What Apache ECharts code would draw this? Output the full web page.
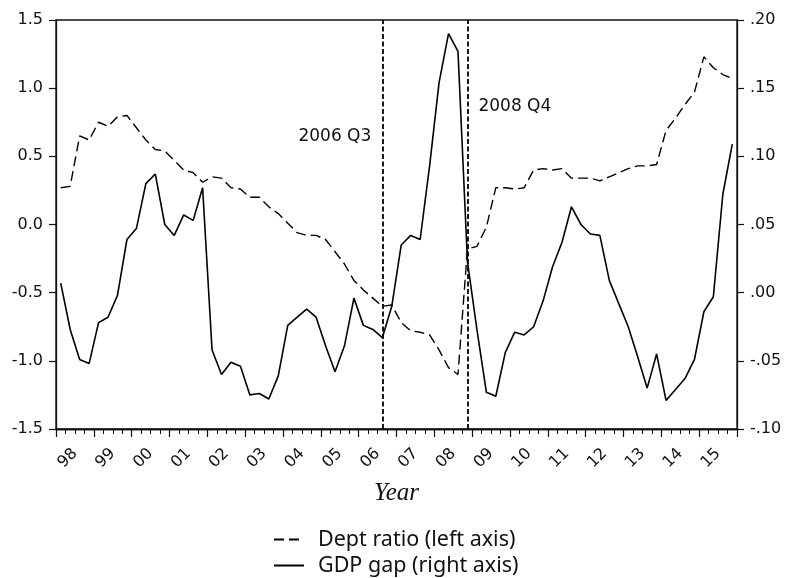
<!DOCTYPE html>
<html>
<head>
<meta charset="utf-8">
<script src="https://cdn.jsdelivr.net/npm/echarts@6/dist/echarts.min.js"></script>
<style>
html,body{margin:0;padding:0;background:#fff;}
#chart{width:785px;height:578px;}
</style>
</head>
<body>
<div id="chart"></div>
<script>
// Year tick labels (x axis)
const years = ['98','99','00','01','02','03','04','05','06','07','08','09','10','11','12','13','14','15'];
// Quarterly categories 1998Q1 .. 2015Q4
const quarters = [];
for (let y = 1998; y <= 2015; y++) { for (let q = 1; q <= 4; q++) quarters.push(y + 'Q' + q); }

// Left axis tick labels
const leftTicks = ['-1.5','-1.0','-0.5','0.0','0.5','1.0','1.5'];
// Right axis tick labels
const rightTicks = ['-.10','-.05','.00','.05','.10','.15','.20'];

// Dept ratio (left axis), quarterly
const deptRatio = [
  0.27, 0.28, 0.65, 0.62, 0.75, 0.72, 0.79, 0.80,
  0.71, 0.62, 0.55, 0.54, 0.47, 0.40, 0.38, 0.31,
  0.35, 0.34, 0.27, 0.26, 0.20, 0.20, 0.13, 0.08,
  0.01, -0.06, -0.08, -0.08, -0.11, -0.20, -0.29, -0.41,
  -0.48, -0.54, -0.60, -0.59, -0.72, -0.78, -0.79, -0.81,
  -0.92, -1.05, -1.10, -0.18, -0.16, -0.02, 0.27, 0.27,
  0.26, 0.27, 0.40, 0.41, 0.40, 0.41, 0.34, 0.34,
  0.34, 0.32, 0.35, 0.38, 0.41, 0.43, 0.43, 0.44,
  0.69, 0.78, 0.88, 0.97, 1.23, 1.15, 1.10, 1.07
];
// GDP gap (right axis), quarterly
const gdpGap = [
  0.007, -0.027, -0.049, -0.052, -0.022, -0.018, -0.002, 0.039,
  0.047, 0.080, 0.087, 0.050, 0.042, 0.057, 0.053, 0.077,
  -0.042, -0.060, -0.051, -0.054, -0.075, -0.074, -0.078, -0.061,
  -0.024, -0.018, -0.012, -0.018, -0.039, -0.058, -0.039, -0.004,
  -0.024, -0.027, -0.033, -0.010, 0.035, 0.042, 0.039, 0.093,
  0.154, 0.190, 0.177, 0.023, -0.027, -0.073, -0.076, -0.044,
  -0.029, -0.031, -0.025, -0.006, 0.019, 0.037, 0.063, 0.050,
  0.043, 0.042, 0.009, -0.008, -0.025, -0.047, -0.070, -0.045,
  -0.079, -0.071, -0.063, -0.049, -0.014, -0.003, 0.072, 0.109
];

// Event markers
const events = [
  { q: '2006Q3', label: '2006 Q3', labelY: 0.645, side: 'left' },
  { q: '2008Q4', label: '2008 Q4', labelY: 0.866, side: 'right' }
];

const tickFont = 'DejaVu Sans';
const chart = echarts.init(document.getElementById('chart'));

function fmtLeft(v) {
  const idx = Math.round((v + 1.5) / 0.5);
  return leftTicks[idx] !== undefined ? leftTicks[idx] : '';
}
function fmtRight(v) {
  const idx = Math.round((v + 0.1) / 0.05);
  return rightTicks[idx] !== undefined ? rightTicks[idx] : '';
}

chart.setOption({
  backgroundColor: '#fff',
  animation: false,
  grid: {
    left: 56, right: 48, top: 20, bottom: 149,
    show: true, borderColor: '#111', borderWidth: 1.3, backgroundColor: 'transparent'
  },
  legend: {
    orient: 'vertical',
    left: 273, top: 528,
    padding: 0,
    itemWidth: 30, itemHeight: 14, itemGap: 3,
    itemStyle: { opacity: 0 },
    textStyle: { fontFamily: 'Noto Sans', fontSize: 21.5, color: '#111', padding: [0, 0, 0, 9], lineHeight: 23 },
    data: ['Dept ratio (left axis)', 'GDP gap (right axis)']
  },
  xAxis: [
    {
      type: 'category',
      data: years,
      boundaryGap: true,
      position: 'bottom',
      axisLine: { show: true, onZero: false, lineStyle: { color: '#111', width: 1.3 } },
      axisTick: { show: true, length: 8, lineStyle: { color: '#111', width: 1.2 } },
      axisLabel: { rotate: 45, margin: 22, fontFamily: tickFont, fontSize: 16, color: '#111', interval: 0 },
      splitLine: { show: false },
      name: 'Year',
      nameLocation: 'middle',
      nameGap: 52,
      nameTextStyle: { fontFamily: 'Liberation Serif', fontStyle: 'italic', fontSize: 25, color: '#111' }
    },
    {
      type: 'category',
      data: quarters,
      boundaryGap: true,
      position: 'bottom',
      axisLine: { show: true, onZero: false, lineStyle: { color: '#111', width: 1.3 } },
      axisTick: { show: true, length: 5, interval: 0, lineStyle: { color: '#111', width: 1 } },
      axisLabel: { show: false },
      splitLine: { show: false }
    }
  ],
  yAxis: [
    {
      type: 'value', position: 'left',
      min: -1.5, max: 1.5, interval: 0.5,
      axisLine: { show: true, onZero: false, lineStyle: { color: '#111', width: 1.3 } },
      axisTick: { show: true, length: 7, lineStyle: { color: '#111', width: 1.2 } },
      axisLabel: { formatter: fmtLeft, margin: 13, fontFamily: tickFont, fontSize: 16, color: '#111' },
      splitLine: { show: false }
    },
    {
      type: 'value', position: 'right',
      min: -0.1, max: 0.2, interval: 0.05,
      axisLine: { show: true, onZero: false, lineStyle: { color: '#111', width: 1.3 } },
      axisTick: { show: true, length: 7, lineStyle: { color: '#111', width: 1.2 } },
      axisLabel: { formatter: fmtRight, margin: 13, fontFamily: tickFont, fontSize: 16, color: '#111' },
      splitLine: { show: false }
    }
  ],
  series: [
    {
      name: 'Dept ratio (left axis)',
      type: 'line',
      xAxisIndex: 1, yAxisIndex: 0,
      data: deptRatio,
      symbol: 'none',
      lineStyle: { color: '#000', width: 1.4, type: [10, 5] },
      itemStyle: { color: '#000' },
      z: 3,
      markLine: {
        silent: true,
        symbol: 'none',
        label: { show: false },
        lineStyle: { color: '#000', width: 1.8, type: [5, 2.5] },
        data: events.map(e => ({ xAxis: e.q }))
      },
      markPoint: {
        symbol: 'circle',
        symbolSize: 0,
        data: events.map(e => ({
          coord: [e.q, e.labelY],
          label: {
            show: true, formatter: e.label, position: e.side, distance: 11,
            fontFamily: tickFont, fontSize: 17, color: '#111'
          }
        }))
      }
    },
    {
      name: 'GDP gap (right axis)',
      type: 'line',
      xAxisIndex: 1, yAxisIndex: 1,
      data: gdpGap,
      symbol: 'none',
      lineStyle: { color: '#000', width: 1.6, type: 'solid' },
      itemStyle: { color: '#000' },
      z: 4
    }
  ]
});
</script>
</body>
</html>
